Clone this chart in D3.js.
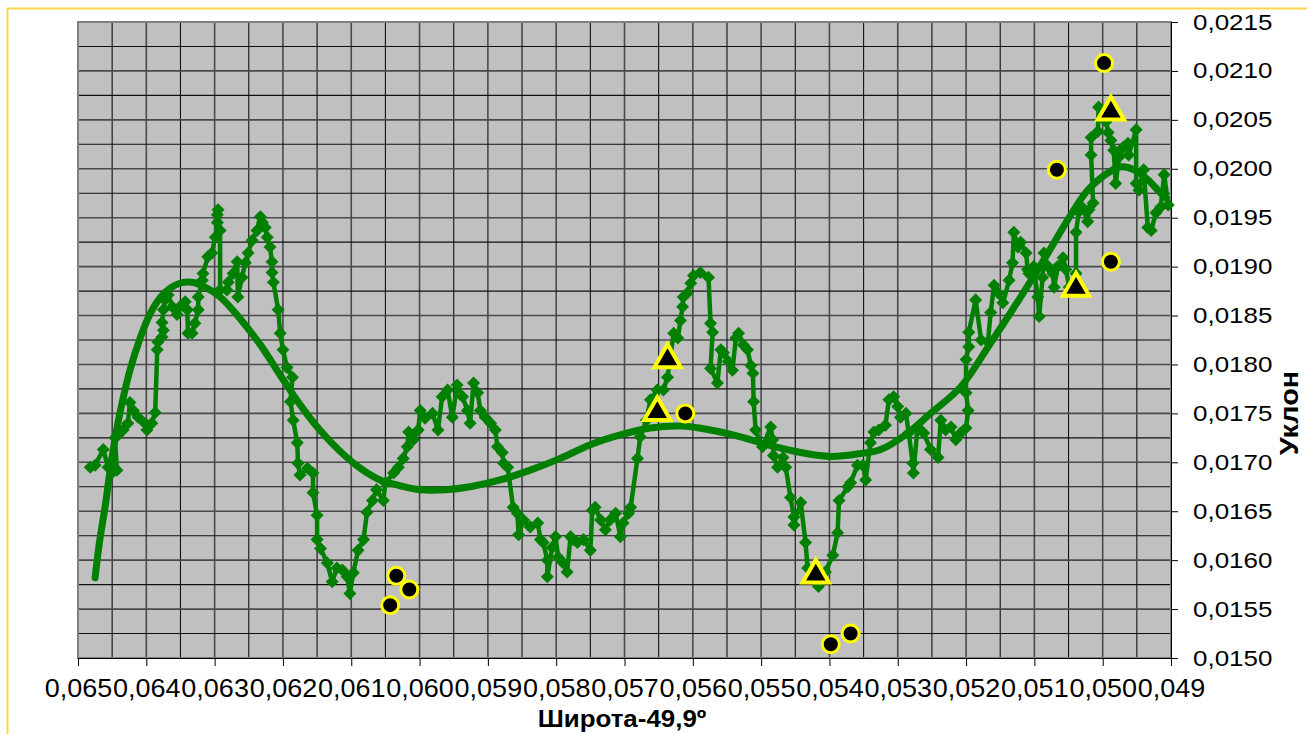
<!DOCTYPE html>
<html>
<head>
<meta charset="utf-8">
<script src="https://cdn.jsdelivr.net/npm/d3@7"></script>
<style>
body{margin:0;background:#fff}
text{font-family:"Liberation Sans",Arial,sans-serif;fill:#000}
</style>
</head>
<body>
<svg></svg>
<script>
// profile along latitude (x) vs slope (y)
let profile=[[0.06482,0.01695],[0.06475,0.01697],[0.06463,0.01713],[0.06456,0.01695],[0.06449,0.01690],[0.06443,0.01692],[0.06446,0.01725],[0.06441,0.01728],[0.06434,0.01733],[0.06427,0.01740],[0.06424,0.01761],[0.06419,0.01753],[0.06412,0.01746],[0.06402,0.01740],[0.06399,0.01733],[0.06392,0.01740],[0.06387,0.01751],[0.06384,0.01815],[0.06383,0.01823],[0.06377,0.01828],[0.06375,0.01835],[0.06377,0.01843],[0.06375,0.01856],[0.06373,0.01866],[0.06368,0.01871],[0.06362,0.01859],[0.06355,0.01851],[0.06351,0.01859],[0.06343,0.01864],[0.06340,0.01856],[0.06339,0.01832],[0.06333,0.01832],[0.06329,0.01842],[0.06324,0.01856],[0.06324,0.01869],[0.06318,0.01886],[0.06317,0.01893],[0.06310,0.01910],[0.06304,0.01914],[0.06299,0.01930],[0.06296,0.01945],[0.06296,0.01953],[0.06295,0.01958],[0.06292,0.01937],[0.06292,0.01876],[0.06282,0.01876],[0.06280,0.01884],[0.06273,0.01893],[0.06267,0.01905],[0.06266,0.01869],[0.06260,0.01889],[0.06255,0.01904],[0.06251,0.01914],[0.06245,0.01927],[0.06238,0.01937],[0.06233,0.01951],[0.06230,0.01945],[0.06226,0.01940],[0.06223,0.01930],[0.06219,0.01920],[0.06216,0.01905],[0.06216,0.01894],[0.06214,0.01884],[0.06207,0.01856],[0.06204,0.01832],[0.06200,0.01815],[0.06194,0.01797],[0.06186,0.01787],[0.06189,0.01762],[0.06185,0.01743],[0.06179,0.01720],[0.06178,0.01699],[0.06175,0.01687],[0.06164,0.01694],[0.06156,0.01689],[0.06156,0.01669],[0.06150,0.01646],[0.06150,0.01621],[0.06145,0.01612],[0.06135,0.01597],[0.06128,0.01578],[0.06121,0.01592],[0.06113,0.01590],[0.06106,0.01583],[0.06102,0.01566],[0.06097,0.01587],[0.06090,0.01610],[0.06082,0.01621],[0.06077,0.01649],[0.06069,0.01661],[0.06063,0.01672],[0.06053,0.01661],[0.06050,0.01679],[0.06038,0.01689],[0.06031,0.01695],[0.06024,0.01704],[0.06018,0.01716],[0.06016,0.01731],[0.06009,0.01723],[0.06002,0.01733],[0.05999,0.01753],[0.05992,0.01745],[0.05981,0.01750],[0.05973,0.01733],[0.05967,0.01767],[0.05959,0.01774],[0.05952,0.01746],[0.05945,0.01779],[0.05937,0.01767],[0.05930,0.01753],[0.05926,0.01740],[0.05921,0.01781],[0.05915,0.01771],[0.05911,0.01753],[0.05904,0.01746],[0.05896,0.01740],[0.05889,0.01733],[0.05886,0.01716],[0.05879,0.01710],[0.05877,0.01699],[0.05871,0.01695],[0.05863,0.01654],[0.05857,0.01648],[0.05855,0.01626],[0.05848,0.01641],[0.05838,0.01634],[0.05827,0.01638],[0.05823,0.01621],[0.05819,0.01618],[0.05813,0.01600],[0.05813,0.01583],[0.05806,0.01613],[0.05801,0.01624],[0.05797,0.01603],[0.05791,0.01598],[0.05784,0.01588],[0.05779,0.01624],[0.05775,0.01621],[0.05769,0.01618],[0.05760,0.01621],[0.05750,0.01610],[0.05747,0.01651],[0.05743,0.01654],[0.05735,0.01641],[0.05728,0.01631],[0.05721,0.01641],[0.05713,0.01648],[0.05706,0.01624],[0.05702,0.01638],[0.05694,0.01648],[0.05691,0.01654],[0.05681,0.01704],[0.05677,0.01726],[0.05668,0.01743],[0.05662,0.01764],[0.05652,0.01774],[0.05643,0.01774],[0.05637,0.01787],[0.05628,0.01832],[0.05622,0.01827],[0.05618,0.01845],[0.05615,0.01859],[0.05614,0.01869],[0.05608,0.01873],[0.05603,0.01883],[0.05599,0.01891],[0.05589,0.01894],[0.05577,0.01889],[0.05574,0.01842],[0.05571,0.01833],[0.05574,0.01796],[0.05564,0.01781],[0.05559,0.01815],[0.05555,0.01812],[0.05548,0.01803],[0.05542,0.01794],[0.05537,0.01827],[0.05533,0.01832],[0.05526,0.01820],[0.05520,0.01815],[0.05515,0.01799],[0.05512,0.01791],[0.05511,0.01762],[0.05508,0.01733],[0.05498,0.01716],[0.05486,0.01736],[0.05483,0.01723],[0.05482,0.01707],[0.05476,0.01695],[0.05468,0.01705],[0.05464,0.01695],[0.05457,0.01664],[0.05452,0.01644],[0.05452,0.01636],[0.05442,0.01659],[0.05435,0.01618],[0.05432,0.01592],[0.05423,0.01585],[0.05416,0.01573],[0.05406,0.01588],[0.05395,0.01605],[0.05388,0.01628],[0.05386,0.01661],[0.05373,0.01675],[0.05369,0.01679],[0.05359,0.01697],[0.05351,0.01697],[0.05347,0.01682],[0.05340,0.01720],[0.05335,0.01731],[0.05328,0.01733],[0.05318,0.01738],[0.05313,0.01764],[0.05306,0.01767],[0.05300,0.01757],[0.05296,0.01746],[0.05288,0.01750],[0.05284,0.01730],[0.05278,0.01699],[0.05277,0.01689],[0.05271,0.01736],[0.05262,0.01730],[0.05252,0.01713],[0.05241,0.01705],[0.05237,0.01743],[0.05230,0.01733],[0.05222,0.01736],[0.05215,0.01723],[0.05208,0.01730],[0.05200,0.01735],[0.05197,0.01753],[0.05200,0.01771],[0.05200,0.01805],[0.05196,0.01818],[0.05196,0.01833],[0.05186,0.01866],[0.05178,0.01825],[0.05168,0.01823],[0.05164,0.01853],[0.05159,0.01881],[0.05153,0.01873],[0.05146,0.01863],[0.05137,0.01886],[0.05132,0.01904],[0.05130,0.01935],[0.05124,0.01920],[0.05120,0.01925],[0.05112,0.01914],[0.05110,0.01897],[0.05108,0.01893],[0.05101,0.01900],[0.05095,0.01869],[0.05093,0.01849],[0.05088,0.01889],[0.05086,0.01914],[0.05080,0.01900],[0.05073,0.01893],[0.05071,0.01879],[0.05066,0.01900],[0.05058,0.01909],[0.05054,0.01897],[0.05049,0.01879],[0.05039,0.01893],[0.05039,0.01935],[0.05035,0.01956],[0.05029,0.01960],[0.05022,0.01946],[0.05020,0.01958],[0.05014,0.01965],[0.05017,0.02014],[0.05017,0.02032],[0.05007,0.02038],[0.05006,0.02063],[0.04995,0.02048],[0.04992,0.02037],[0.04988,0.02029],[0.04984,0.02019],[0.04981,0.01985],[0.04976,0.02012],[0.04970,0.02022],[0.04963,0.02026],[0.04962,0.02014],[0.04951,0.02040],[0.04951,0.01985],[0.04947,0.01978],[0.04940,0.01999],[0.04934,0.01940],[0.04929,0.01937],[0.04922,0.01955],[0.04915,0.01961],[0.04910,0.01994],[0.04904,0.01963]]

// smooth trend line
let trend=[[0.06475,0.01582],[0.06468,0.01621],[0.06460,0.01656],[0.06453,0.01692],[0.06446,0.01723],[0.06436,0.01759],[0.06424,0.01794],[0.06409,0.01827],[0.06395,0.01851],[0.06380,0.01868],[0.06365,0.01878],[0.06351,0.01883],[0.06333,0.01884],[0.06314,0.01879],[0.06292,0.01869],[0.06263,0.01847],[0.06233,0.01820],[0.06204,0.01789],[0.06175,0.01759],[0.06146,0.01733],[0.06116,0.01711],[0.06087,0.01694],[0.06058,0.01682],[0.06028,0.01676],[0.05999,0.01672],[0.05962,0.01672],[0.05926,0.01675],[0.05882,0.01682],[0.05838,0.01692],[0.05794,0.01704],[0.05750,0.01718],[0.05706,0.01728],[0.05662,0.01735],[0.05618,0.01737],[0.05574,0.01733],[0.05530,0.01726],[0.05486,0.01717],[0.05442,0.01710],[0.05398,0.01706],[0.05354,0.01709],[0.05325,0.01713],[0.05285,0.01730],[0.05252,0.01750],[0.05208,0.01777],[0.05164,0.01822],[0.05120,0.01869],[0.05080,0.01914],[0.05051,0.01948],[0.05022,0.01978],[0.04992,0.01996],[0.04973,0.02002],[0.04954,0.01999],[0.04934,0.01989],[0.04915,0.01975],[0.04907,0.01970]]

let circlePts=[[0.06043,0.01554],[0.06034,0.01584],[0.06015,0.01570],[0.05611,0.01750],[0.05398,0.01514],[0.05369,0.01525],[0.04998,0.02108],[0.05067,0.01999],[0.04988,0.01905]]
let trianglePts=[[0.05652,0.01751],[0.05637,0.01805],[0.05420,0.01585],[0.05039,0.01878],[0.04988,0.02058]]

let xTicks=[0.065,0.064,0.063,0.062,0.061,0.060,0.059,0.058,0.057,0.056,0.055,0.054,0.053,0.052,0.051,0.050,0.049]
let yTicks=[0.0150,0.0155,0.0160,0.0165,0.0170,0.0175,0.0180,0.0185,0.0190,0.0195,0.0200,0.0205,0.0210,0.0215]

let width=1307
let height=734
let padLeft=78, padRight=1171, padTop=22, padBottom=658

let green='#008000'

let svg=d3.select('svg').attr('width',width).attr('height',height)

let ru=d3.formatLocale({decimal:',',thousands:' ',grouping:[3],currency:['','']})
let fmtX=ru.format('.3f')
let fmtY=ru.format('.4f')

let xScale=d3.scaleLinear().domain([0.065,0.049]).range([padLeft,padRight])
let yScale=d3.scaleLinear().domain([0.015,0.0215]).range([padBottom,padTop])

// outer frame (top and left edges only are visible)
svg.append('path')
    .attr('d','M7.5,'+height+'V8.5H'+width)
    .attr('fill','none')
    .attr('stroke','#ffd54f')
    .attr('stroke-width',2)

// plot background
svg.append('rect')
    .attr('x',padLeft).attr('y',padTop)
    .attr('width',padRight-padLeft).attr('height',padBottom-padTop)
    .attr('fill','#c0c0c0')

// grid
let vLines=d3.range(0.0645,0.0490,-0.0005)
let hLines=d3.range(0.01525,0.0215,0.00025)
svg.append('g').selectAll('line')
    .data(vLines)
    .enter().append('line')
    .attr('x1',d=>xScale(d)).attr('x2',d=>xScale(d))
    .attr('y1',padTop).attr('y2',padBottom)
    .attr('stroke',(d,i)=>i%2==1?'#4a4a4a':'#111')
    .attr('stroke-width',(d,i)=>i%2==1?1.6:1.1)
svg.append('g').selectAll('line')
    .data(hLines)
    .enter().append('line')
    .attr('x1',padLeft).attr('x2',padRight)
    .attr('y1',d=>yScale(d)).attr('y2',d=>yScale(d))
    .attr('stroke',(d,i)=>i%2==1?'#4a4a4a':'#111')
    .attr('stroke-width',(d,i)=>i%2==1?1.6:1.1)

svg.append('rect')
    .attr('x',padLeft).attr('y',padTop)
    .attr('width',padRight-padLeft).attr('height',padBottom-padTop)
    .attr('fill','none')
    .attr('stroke','#808080')
    .attr('stroke-width',2)

// axes
let xAxis=d3.axisBottom(xScale).tickValues(xTicks).tickFormat(fmtX).tickSize(8).tickPadding(13)
let gx=svg.append('g')
    .attr('transform','translate(0,'+padBottom+')')
    .call(xAxis)
gx.select('.domain').attr('stroke','#000')
gx.selectAll('.tick line').attr('stroke','#000')
gx.selectAll('text')
    .style('font-size','25px')
    .attr('transform','scale(1.08,1)')

let yAxis=d3.axisRight(yScale).tickValues(yTicks).tickFormat(fmtY).tickSize(7).tickPadding(15)
let gy=svg.append('g')
    .attr('transform','translate('+padRight+',0)')
    .call(yAxis)
gy.select('.domain').attr('stroke','#000')
gy.selectAll('.tick line').attr('stroke','#000')
gy.selectAll('text')
    .style('font-size','22px')
    .attr('x',22/1.18)
    .attr('transform','scale(1.18,1)')

svg.append('text')
    .attr('transform','translate(622,727) scale(1.08,1)')
    .attr('text-anchor','middle')
    .style('font-size','24px').style('font-weight','bold')
    .text('Широта-49,9º')

svg.append('text')
    .attr('transform','translate(1298,413) rotate(-90) scale(1.15,1)')
    .attr('text-anchor','middle')
    .style('font-size','25px').style('font-weight','bold')
    .text('Уклон')

// profile line with diamond markers
let line=d3.line().x(d=>xScale(d[0])).y(d=>yScale(d[1]))
svg.append('path')
    .datum(profile)
    .attr('d',line)
    .attr('fill','none')
    .attr('stroke',green)
    .attr('stroke-width',4.5)
    .attr('stroke-linejoin','round')

let diamond=d3.symbol(d3.symbolSquare,85)
svg.append('g').selectAll('path')
    .data(profile)
    .enter().append('path')
    .attr('d',diamond)
    .attr('transform',d=>'translate('+xScale(d[0])+','+yScale(d[1])+') rotate(45)')
    .attr('fill',green)

// trend curve
svg.append('path')
    .datum(trend)
    .attr('d',line.curve(d3.curveCatmullRom))
    .attr('fill','none')
    .attr('stroke',green)
    .attr('stroke-width',7)
    .attr('stroke-linecap','round')

// points
svg.append('g').selectAll('circle')
    .data(circlePts)
    .enter().append('circle')
    .attr('cx',d=>xScale(d[0]))
    .attr('cy',d=>yScale(d[1]))
    .attr('r',8.5)
    .attr('fill','#000')
    .attr('stroke','#ffff00')
    .attr('stroke-width',3)

let tri=d3.symbol(d3.symbolTriangle,300)
svg.append('g').selectAll('path')
    .data(trianglePts)
    .enter().append('path')
    .attr('d',tri)
    .attr('transform',d=>'translate('+xScale(d[0])+','+yScale(d[1])+')')
    .attr('fill','#000')
    .attr('stroke','#ffff00')
    .attr('stroke-width',4)
    .attr('stroke-linejoin','miter')
</script>
</body>
</html>
